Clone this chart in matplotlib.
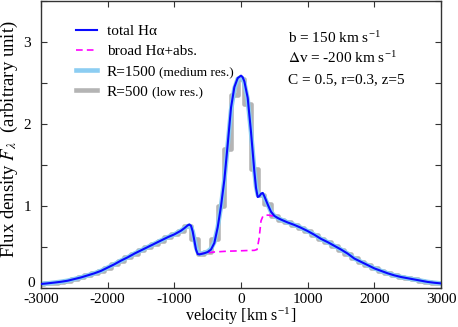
import numpy as np
import matplotlib.pyplot as plt

plt.rcParams['font.family'] = ['Liberation Serif', 'DejaVu Serif']
plt.rcParams['mathtext.fontset'] = 'stix'
plt.rcParams['font.size'] = 11
plt.rcParams['axes.unicode_minus'] = False

# velocity grid of the model line [km/s]
v_total = [-3000, -2900, -2800, -2700, -2600, -2500, -2400, -2300, -2200, -2100,
           -2000, -1900, -1800, -1700, -1600, -1500, -1400, -1300, -1200, -1100,
           -1000, -900, -850, -800, -775, -750, -725, -700, -675, -650, -625,
           -600, -550, -500, -450, -400, -350, -300, -250, -200, -150, -100,
           -50, 0, 25, 50, 100, 150, 200, 225, 250, 275, 300, 325, 350, 400,
           450, 500, 550, 600, 700, 800, 900, 1000, 1100, 1200, 1300, 1400,
           1500, 1600, 1700, 1800, 1900, 2000, 2100, 2200, 2300, 2400, 2500,
           2600, 2700, 2800, 2900, 3000]

# total H-alpha
f_total = [0.05, 0.058, 0.067, 0.077, 0.09, 0.11, 0.13, 0.155, 0.18, 0.21,
           0.25, 0.29, 0.335, 0.375, 0.42, 0.46, 0.50, 0.54, 0.58, 0.62,
           0.655, 0.70, 0.73, 0.765, 0.775, 0.76, 0.69, 0.58, 0.47, 0.415, 0.41,
           0.415, 0.425, 0.44, 0.47, 0.55, 0.74, 1.0, 1.32, 1.75, 2.2, 2.45,
           2.56, 2.59, 2.57, 2.52, 2.32, 1.90, 1.42, 1.22, 1.11, 1.12, 1.15, 1.16, 1.12, 1.02,
           0.93, 0.88, 0.855, 0.835, 0.80, 0.77, 0.735, 0.695, 0.65, 0.60, 0.56, 0.515,
           0.47, 0.42, 0.36, 0.32, 0.28, 0.24, 0.21, 0.18, 0.155, 0.135, 0.12,
           0.105, 0.09, 0.075, 0.065, 0.057]

# R=1500 (medium resolution)
f_med = [0.05, 0.058, 0.067, 0.077, 0.09, 0.11, 0.13, 0.155, 0.18, 0.21,
         0.25, 0.29, 0.335, 0.375, 0.42, 0.46, 0.50, 0.54, 0.58, 0.62,
         0.655, 0.70, 0.73, 0.755, 0.76, 0.745, 0.69, 0.60, 0.50, 0.44, 0.42,
         0.42, 0.43, 0.445, 0.48, 0.56, 0.74, 1.0, 1.32, 1.74, 2.17, 2.43,
         2.55, 2.57, 2.55, 2.50, 2.30, 1.90, 1.43, 1.24, 1.14, 1.13, 1.14, 1.14, 1.11, 1.02,
         0.93, 0.88, 0.855, 0.835, 0.80, 0.77, 0.735, 0.695, 0.65, 0.60, 0.56, 0.515,
         0.47, 0.42, 0.36, 0.32, 0.28, 0.24, 0.21, 0.18, 0.155, 0.135, 0.12,
         0.105, 0.09, 0.075, 0.065, 0.057]

# broad H-alpha + absorption (only where it departs from the total)
v_broad = [-650, -600, -500, -400, -300, -200, -100, 0, 100, 200, 240, 270, 300, 330, 400, 450, 500, 550]
f_broad = [0.415, 0.42, 0.43, 0.44, 0.445, 0.45, 0.452, 0.455, 0.458, 0.46, 0.47, 0.60, 0.82, 0.88, 0.89, 0.885, 0.87, 0.855]

# R=500 (low resolution), 100 km/s bins
v_low = list(range(-3000, 3001, 100))
f_low = [0.05, 0.058, 0.067, 0.077, 0.09, 0.11, 0.13, 0.155, 0.18, 0.21,
         0.25, 0.29, 0.335, 0.375, 0.42, 0.46, 0.50, 0.54, 0.58, 0.62,
         0.655, 0.70, 0.76, 0.60, 0.42, 0.44, 0.60, 1.00, 1.70, 2.35,
         2.55, 2.25, 1.45, 1.13, 1.03, 0.88, 0.835, 0.80, 0.77, 0.735,
         0.695, 0.65, 0.60, 0.56, 0.515, 0.47, 0.42, 0.37, 0.32, 0.28,
         0.24, 0.21, 0.18, 0.155, 0.135, 0.12, 0.105, 0.09, 0.075, 0.065, 0.057]

annot = [r'b = 150 km s$^{\mathregular{-1}}$', r'$\Delta$v = -200 km s$^{\mathregular{-1}}$',
         'C = 0.5, r=0.3, z=5']

fig = plt.figure(figsize=(4.58, 3.27), dpi=100)
ax = fig.add_axes([0.0895, 0.119, 0.8735, 0.878])

ax.step(v_low, f_low, where='mid', color='#b4b4b4', lw=3.3, zorder=1, label='R=500')
ax.plot(v_total, f_med, color='#8ccdf2', lw=3.3, zorder=2, label='R=1500')
ax.plot(v_broad, f_broad, color='#ff00ff', lw=1.2, ls=(0, (4, 2.5)), zorder=3, label='broad H\u03b1+abs.')
ax.plot(v_total, f_total, color='#0a0aff', lw=1.5, zorder=4, label='total H\u03b1')

ax.set_xlim(-3000, 3000)
ax.set_ylim(0, 3.5)
ax.set_xticks(np.arange(-3000, 3001, 1000))
ax.set_yticks(np.arange(0, 3.51, 0.5))
# "0" is drawn separately, a little above its tick
ax.set_yticklabels(['', '', '1', '', '2', '', '3', ''])
ax.annotate('0', xy=(0, 0), xycoords='axes fraction', xytext=(-4.5, 3),
            textcoords='offset points', ha='right', va='center', fontsize=11)
ax.tick_params(direction='in', top=True, right=True, length=4, width=0.8, colors='#333333',
               labelcolor='black', labelsize=11)
ax.tick_params(axis='y', pad=7)
for s in ax.spines.values():
    s.set_color('#333333')
    s.set_linewidth(1.0)

ax.set_xlabel(r'velocity [km s$^{\mathregular{-1}}$]', labelpad=0, fontsize=11.6)
ax.set_ylabel(r'Flux density $F_\lambda$  (arbitrary unit)', fontsize=13.5)
ax.yaxis.set_label_coords(-0.052, 0.52)

for i, s in enumerate(annot):
    ax.text(0.618, 0.855 - i * 0.071, s, transform=ax.transAxes, fontsize=11, va='baseline')

h, l = ax.get_legend_handles_labels()
order = [3, 2, 1, 0]
leg = ax.legend([h[i] for i in order], [l[i] for i in order], loc='upper left',
                bbox_to_anchor=(0.06, 0.955), frameon=False, handlelength=1.4,
                handletextpad=0.65, labelspacing=0.42, fontsize=11, borderaxespad=0.3)

fig.canvas.draw()
r = fig.canvas.get_renderer()
for t, extra in zip(leg.get_texts()[2:], ['(medium res.)', '(low res.)']):
    bb = t.get_window_extent(r)
    x0, y0 = t.get_transform().transform(t.get_position())
    fx, fy = fig.transFigure.inverted().transform((bb.x1 + 3, y0))
    fig.text(fx, fy, extra, fontsize=9.5, va='baseline')

fig.savefig('out.png', dpi=100)
